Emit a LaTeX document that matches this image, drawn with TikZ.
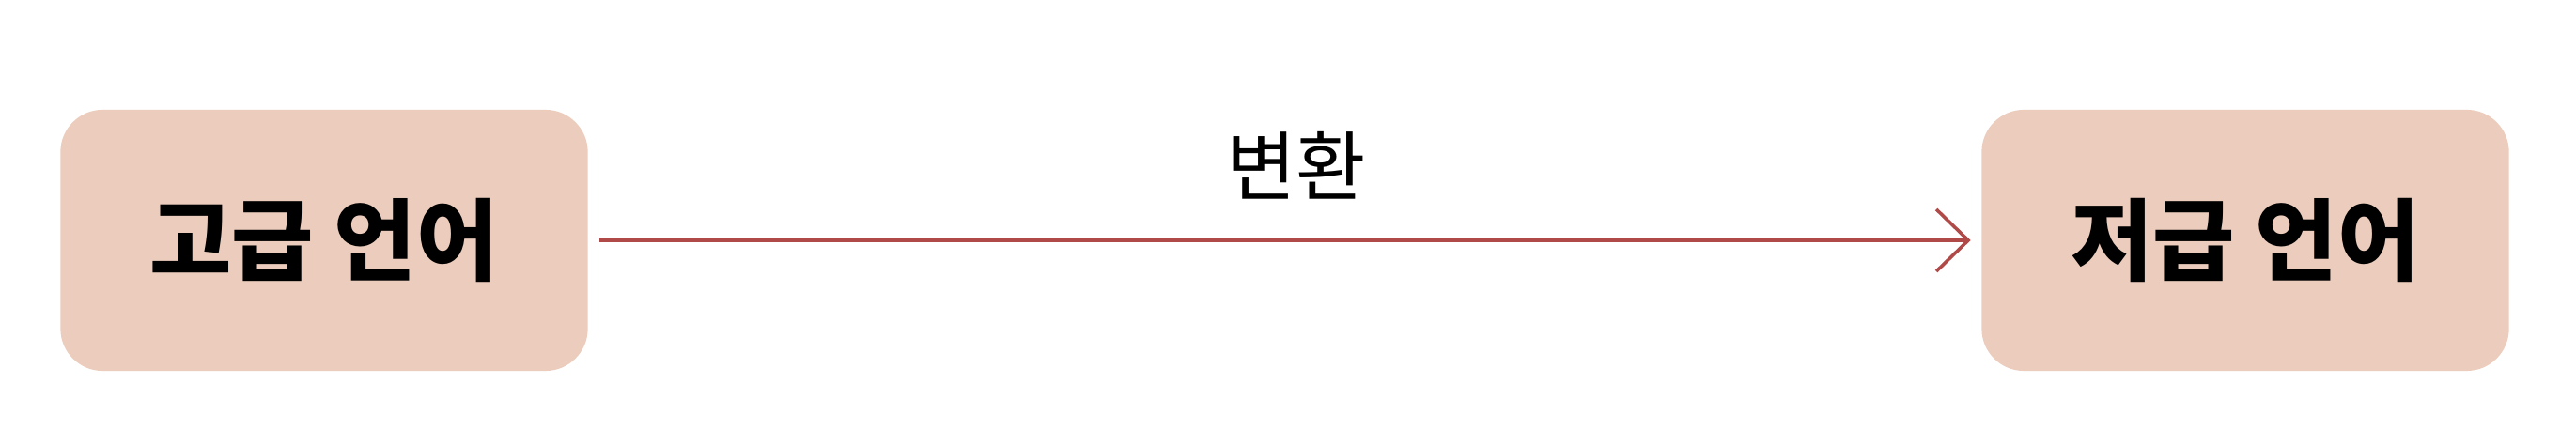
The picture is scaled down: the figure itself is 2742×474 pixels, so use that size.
\documentclass[tikz,border=0pt]{standalone}
\usepackage{fontspec}
\newfontfamily\kr{Noto Sans CJK KR}
\usetikzlibrary{arrows.meta,positioning}
\definecolor{boxfill}{HTML}{ECCDBD}
\definecolor{arrowred}{HTML}{B04A48}

\tikzset{
  langbox/.style={draw=none, fill=boxfill, rounded corners=0.45cm, minimum width=5.61cm, minimum height=2.78cm, font=\kr\bfseries\fontsize{27}{32}\selectfont},
  convarrow/.style={draw=arrowred, line width=1.2pt, -{Straight Barb[length=3.4mm,width=6.6mm,line width=1pt]}}
}

\begin{document}
\begin{tikzpicture}[x={(0.01cm,0)},y={(0,-0.01cm)}]
  \useasboundingbox[fill=white] (0,0) rectangle (2742,474);
  \node[langbox] (high) at (345,256) {고급 언어};
  \node[langbox] (low) at (2390,256) {저급 언어};

  \draw[convarrow, shorten <=0.12cm, shorten >=0.11cm] (high.east) -- node[xshift=0.12cm, yshift=0.8cm, text=black, font=\kr\fontsize{23}{28}\selectfont] (conv) {변환} (low.west);
\end{tikzpicture}
\end{document}
